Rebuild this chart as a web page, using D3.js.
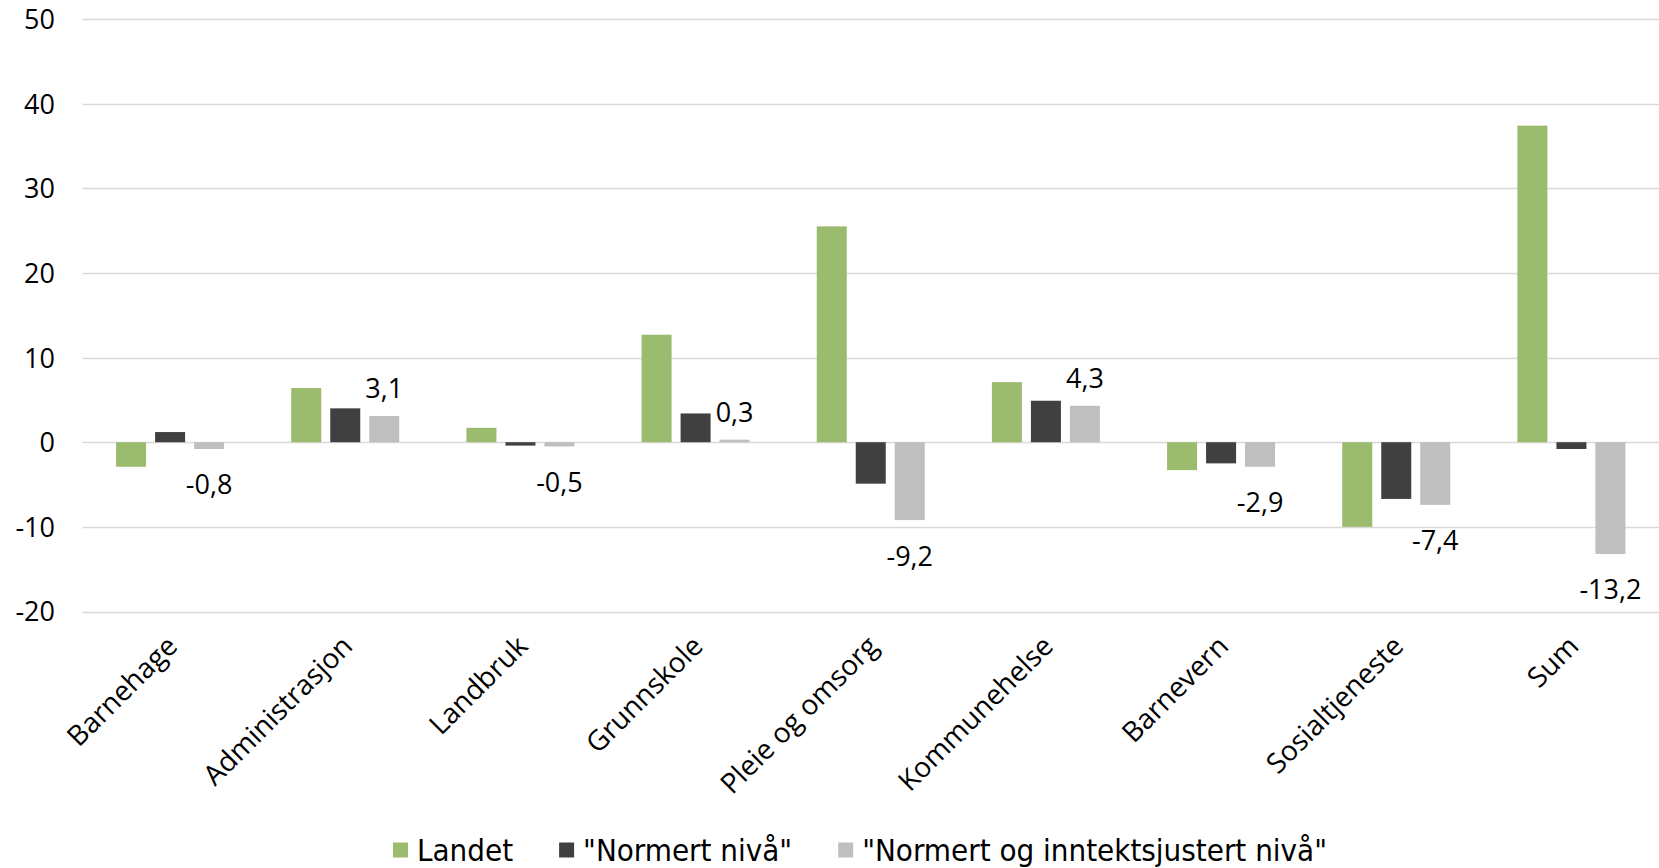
<!DOCTYPE html>
<html>
<head>
<meta charset="utf-8">
<script src="https://cdn.jsdelivr.net/npm/d3@7"></script>
<style>
  html, body { margin: 0; padding: 0; background: #ffffff; }
  svg { display: block; }
</style>
</head>
<body>
<svg id="chart" width="1659" height="868"></svg>
<script>
const categories = ["Barnehage", "Administrasjon", "Landbruk", "Grunnskole", "Pleie og omsorg", "Kommunehelse", "Barnevern", "Sosialtjeneste", "Sum"];
const seriesNames = ["Landet", "\"Normert nivå\"", "\"Normert og inntektsjustert nivå\""];
const landet = [-2.9, 6.4, 1.7, 12.7, 25.5, 7.1, -3.3, -10.0, 37.4];
const normert = [1.2, 4.0, -0.4, 3.4, -4.9, 4.9, -2.5, -6.7, -0.8];
const normertInntekt = [-0.8, 3.1, -0.5, 0.3, -9.2, 4.3, -2.9, -7.4, -13.2];
const seriesColors = ["#9BBB6E", "#404040", "#BFBFBF"];
const yTicks = [-20, -10, 0, 10, 20, 30, 40, 50];

const seriesValues = [landet, normert, normertInntekt];
const svg = d3.select("#chart");
const tickFont = "'Open Sans', 'Noto Sans', sans-serif";
const legendFont = "'Liberation Sans Narrow', 'DejaVu Sans Condensed', 'Open Sans', sans-serif";

const plotLeft = 82.5, plotRight = 1659, plotTop = 19, plotBottom = 611.5;

const x0 = d3.scaleBand().domain(categories).range([plotLeft, plotRight]).paddingInner(0).paddingOuter(0);
const groupWidth = 108;
const x1 = d3.scaleBand().domain(d3.range(seriesNames.length)).range([0, groupWidth]).paddingInner(9 / 39).paddingOuter(0);
const y = d3.scaleLinear().domain([-20, 50]).range([plotBottom, plotTop]);
const groupOffset = (x0.bandwidth() - groupWidth) / 2;

// gridlines
svg.append("g").selectAll("line").data(yTicks).join("line")
  .attr("x1", plotLeft).attr("x2", plotRight)
  .attr("y1", d => Math.round(y(d)) + 0.5).attr("y2", d => Math.round(y(d)) + 0.5)
  .attr("stroke", "#D9D9D9").attr("stroke-width", 1.5);

// y axis labels
const yAxis = d3.axisLeft(y).tickValues(yTicks).tickSize(0).tickPadding(0)
  .tickFormat(d => String(d));
const yg = svg.append("g").attr("transform", "translate(55,0)").call(yAxis);
yg.select(".domain").remove();
yg.selectAll("text").attr("font-family", tickFont).attr("font-size", 27).attr("fill", "#000").attr("dy", "0.35em");

// bars
const rows = categories.map((c, i) => ({ cat: c, vals: seriesValues.map(s => s[i]) }));
const groups = svg.append("g").selectAll("g").data(rows).join("g")
  .attr("transform", d => `translate(${x0(d.cat) + groupOffset},0)`);
groups.selectAll("rect").data(d => d.vals.map((v, k) => ({ v, k }))).join("rect")
  .attr("x", d => x1(d.k))
  .attr("width", x1.bandwidth())
  .attr("y", d => Math.min(y(d.v), y(0)))
  .attr("height", d => Math.abs(y(d.v) - y(0)))
  .attr("fill", d => seriesColors[d.k]);

// data labels for third series
const fmt = v => v.toFixed(1).replace(".", ",");
groups.append("text")
  .attr("x", x1(2) + x1.bandwidth() / 2)
  .attr("y", d => d.vals[2] >= 0 ? y(d.vals[2]) - 27 : y(d.vals[2]) + 36)
  .attr("dy", "0.35em")
  .attr("text-anchor", "middle")
  .attr("font-family", tickFont).attr("font-size", 27).attr("fill", "#000")
  .text(d => fmt(d.vals[2]));

// category labels
svg.append("g").selectAll("text").data(categories).join("text")
  .attr("transform", d => `translate(${x0(d) + x0.bandwidth() / 2 + 2},641) rotate(-45)`)
  .attr("text-anchor", "end")
  .attr("dy", "0.35em")
  .attr("font-family", tickFont).attr("font-size", 28).attr("fill", "#000")
  .text(d => d);

// legend
const legend = svg.append("g");
const items = legend.selectAll("g").data(seriesNames).join("g");
items.append("rect").attr("width", 15).attr("height", 15).attr("y", -7.5).attr("fill", (d, i) => seriesColors[i]);
items.append("text").attr("x", 24).attr("dy", "0.35em")
  .attr("font-family", legendFont).attr("font-size", 31).attr("fill", "#000")
  .text(d => d);
let cx = 0;
const gap = 46;
items.each(function () {
  const g = d3.select(this);
  g.attr("transform", `translate(${cx},0)`);
  cx += 24 + g.select("text").node().getComputedTextLength() + gap;
});
const totalW = cx - gap;
legend.attr("transform", `translate(${860 - totalW / 2},850)`);
</script>
</body>
</html>
